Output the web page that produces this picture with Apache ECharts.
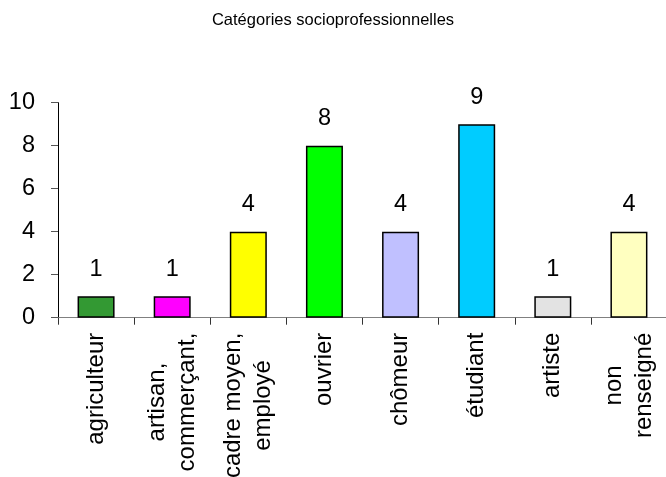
<!DOCTYPE html>
<html>
<head>
<meta charset="utf-8">
<script src="https://cdn.jsdelivr.net/npm/echarts@6/dist/echarts.min.js"></script>
<style>html,body{margin:0;padding:0;background:#fff;}#c{width:666px;height:477px;}</style>
</head>
<body>
<div id="c"></div>
<script>
const titleText = 'Catégories socioprofessionnelles';
const categories = ['agriculteur', 'artisan,\ncommerçant,', 'cadre moyen,\nemployé', 'ouvrier', 'chômeur', 'étudiant', 'artiste', 'non\nrenseigné'];
const values = [1, 1, 4, 8, 4, 9, 1, 4];
const barColors = ['#339933', '#FF00FF', '#FFFF00', '#00FF00', '#C0C0FF', '#00CCFF', '#E3E3E3', '#FFFFC0'];
const yTicks = [0, 2, 4, 6, 8, 10];

const FONT = '"Liberation Sans", Arial, sans-serif';
const chart = echarts.init(document.getElementById('c'), null, {renderer: 'canvas'});
chart.setOption({
  animation: false,
  backgroundColor: '#fff',
  title: {
    text: titleText, left: 'center', top: 12, padding: 0,
    textStyle: {fontFamily: FONT, fontSize: 16.5, fontWeight: 'normal', color: '#000'}
  },
  grid: {left: 58, top: 102.7, width: 609, bottom: 159.3, containLabel: false, outerBoundsMode: 'none'},
  xAxis: {
    type: 'category',
    data: categories,
    axisLine: {lineStyle: {color: '#808080', width: 1}},
    axisTick: {show: true, length: 7, alignWithLabel: false, lineStyle: {color: '#333'}},
    axisLabel: {
      interval: 0, rotate: 90, margin: 15,
      fontFamily: FONT, fontSize: 24, color: '#000', lineHeight: 30,
      formatter: v => v.split('\n').map(s => '{c|' + s + '}').join('\n'),
      rich: {c: {align: 'center', fontFamily: FONT, fontSize: 24, color: '#000', lineHeight: 30}}
    }
  },
  yAxis: {
    type: 'value', min: yTicks[0], max: yTicks[yTicks.length - 1], interval: 2,
    axisLine: {show: true, lineStyle: {color: '#000', width: 1}},
    axisTick: {show: true, length: 7, lineStyle: {color: '#555'}},
    splitLine: {show: false},
    axisLabel: {margin: 23, fontFamily: FONT, fontSize: 23.5, color: '#000'}
  },
  series: [{
    type: 'bar',
    data: values.map((v, i) => ({value: v, itemStyle: {color: barColors[i]}})),
    barWidth: 37,
    itemStyle: {borderColor: '#000', borderWidth: 1.5},
    label: {show: true, position: 'top', distance: 15, fontFamily: FONT, fontSize: 23.5, color: '#000'}
  }]
});
</script>
</body>
</html>
